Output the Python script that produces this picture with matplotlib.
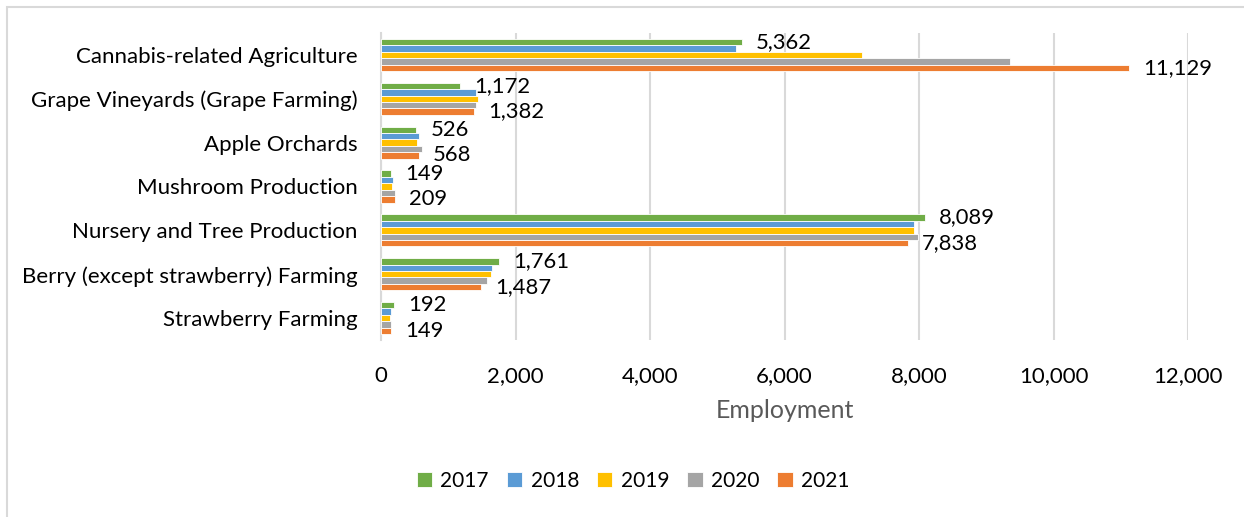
import matplotlib
matplotlib.use("Agg")
import matplotlib.pyplot as plt
import numpy as np
from matplotlib.patches import Rectangle

plt.rcParams['font.family'] = ['Lato', 'DejaVu Sans']

categories = ["Cannabis-related Agriculture", "Grape Vineyards (Grape Farming)", "Apple Orchards",
              "Mushroom Production", "Nursery and Tree Production", "Berry (except strawberry) Farming",
              "Strawberry Farming"]
years = ["2017", "2018", "2019", "2020", "2021"]
v2017 = [5362, 1172, 526, 149, 8089, 1761, 192]
v2018 = [5280, 1407, 560, 175, 7920, 1650, 155]
v2019 = [7150, 1447, 540, 170, 7920, 1640, 137]
v2020 = [9350, 1412, 610, 205, 7990, 1580, 145]
v2021 = [11129, 1382, 568, 209, 7838, 1487, 149]
series = [v2017, v2018, v2019, v2020, v2021]
colors = ["#70AD47", "#5B9BD5", "#FFC000", "#A5A5A5", "#ED7D31"]
xticks = [0, 2000, 4000, 6000, 8000, 10000, 12000]

W, H = 1244, 517
fig = plt.figure(figsize=(W / 100, H / 100), dpi=100)
ax = fig.add_axes([381 / W, 1 - 340 / H, (1188 - 381) / W, (340 - 33) / H])

n = len(categories)
y = np.arange(n)
group = 0.73
bh = group / len(series)
for i, (vals, c, yr) in enumerate(zip(series, colors, years)):
    pos = y - group / 2 + bh * (i + 0.5)
    ax.barh(pos, vals, height=bh, color=c, edgecolor='white', linewidth=0.6, label=yr, zorder=3)
    if i in (0, len(series) - 1):
        for p, v in zip(pos, vals):
            ax.annotate(f"{v:,}", (v, p), xytext=(14, 0), textcoords='offset pixels',
                        va='center', ha='left', fontsize=15.8, color='#000000', zorder=4)

ax.set_ylim(n - 0.5, -0.5)
ax.set_xlim(0, 12000)
ax.set_yticks(y)
ax.set_yticklabels(categories, fontsize=16)
ax.set_xticks(xticks)
ax.set_xticklabels([f"{t:,}" for t in xticks], fontsize=16)
ax.tick_params(axis='both', length=0)
ax.tick_params(axis='x', pad=19)
ax.tick_params(axis='y', pad=17)
ax.grid(axis='x', color='#D9D9D9', linewidth=1.5, zorder=0)
for s in ['top', 'right', 'bottom']:
    ax.spines[s].set_visible(False)
ax.spines['left'].set_color('#D9D9D9')
ax.spines['left'].set_linewidth(1.5)
ax.set_xlabel("Employment", fontsize=18, color='#595959', labelpad=9)

handles, labels = ax.get_legend_handles_labels()
leg = fig.legend(handles, labels, loc='center', bbox_to_anchor=(633 / W, 1 - 481 / H), ncol=5,
                 frameon=False, fontsize=15, handlelength=0.75, handleheight=0.75,
                 handletextpad=0.4, columnspacing=0.85)

fig.patches.append(Rectangle((7.5 / W, -0.1), 1.2, 1.1 - 6.5 / H, transform=fig.transFigure,
                             fill=False, edgecolor='#D9D9D9', linewidth=1.5))

fig.savefig("out.png", dpi=100)
